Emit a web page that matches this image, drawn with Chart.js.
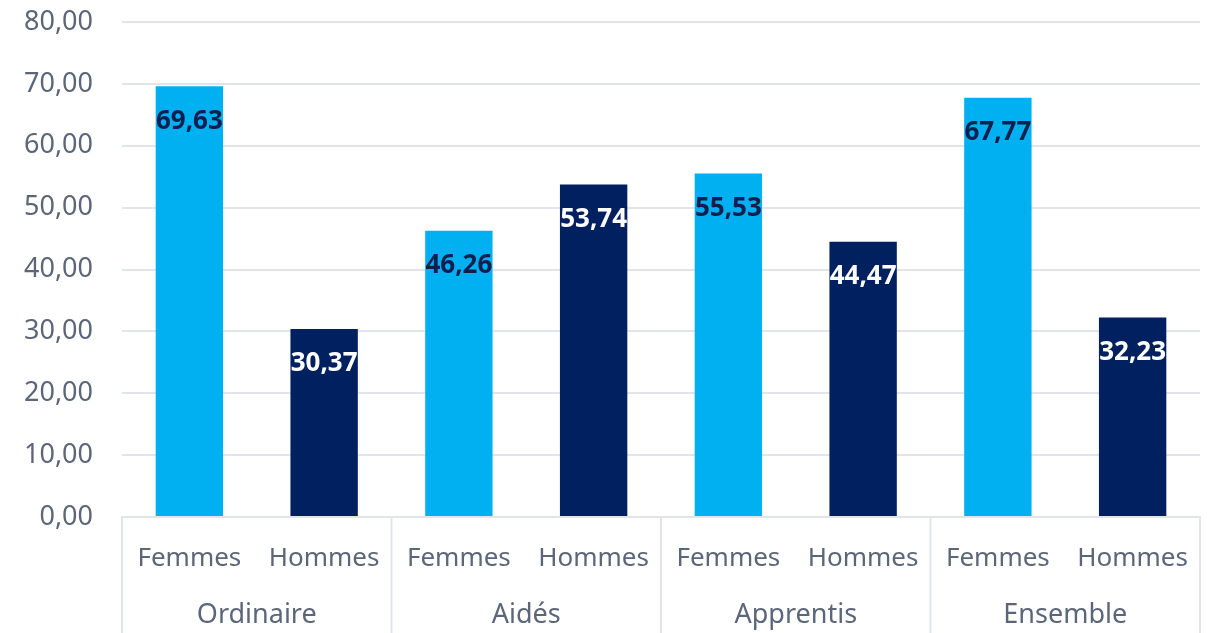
<!DOCTYPE html>
<html>
<head>
<meta charset="utf-8">
<script src="https://cdn.jsdelivr.net/npm/chart.js@4"></script>
<style>
  html, body { margin: 0; padding: 0; background: #fff; }
  #wrap { width: 1209px; height: 633px; }
</style>
</head>
<body>
<div id="wrap"><canvas id="contratChart"></canvas></div>
<script>
const groups = ['Ordinaire', 'Aidés', 'Apprentis', 'Ensemble'];
const sexes = ['Femmes', 'Hommes'];
const values = [69.63, 30.37, 46.26, 53.74, 55.53, 44.47, 67.77, 32.23];
const yMin = 0, yMax = 80, yStep = 10;

const labels = [];
groups.forEach(() => sexes.forEach(s => labels.push(s)));

const fmt = v => v.toFixed(2).replace('.', ',');
const axisGrey = '#5b6778';
const gridGrey = '#e1e4ea';

// value labels inside the top of each bar + group row under the axis
const extras = {
  id: 'extras',
  afterDatasetsDraw(chart) {
    const ctx = chart.ctx;
    const meta = chart.getDatasetMeta(0);
    ctx.save();
    ctx.font = 'bold 26px "Noto Sans"';
    ctx.textAlign = 'center';
    ctx.textBaseline = 'middle';
    meta.data.forEach((bar, i) => {
      ctx.fillStyle = i % 2 === 0 ? '#0c1f4f' : '#ffffff';
      ctx.fillText(fmt(values[i]), bar.x, bar.y + 35);
    });
    ctx.restore();
  },
  afterDraw(chart) {
    const ctx = chart.ctx;
    const x = chart.scales.x;
    const area = chart.chartArea;
    const step = x.getPixelForValue(1) - x.getPixelForValue(0);
    ctx.save();
    ctx.strokeStyle = gridGrey;
    ctx.lineWidth = 2;
    for (let g = 0; g <= groups.length; g++) {
      const px = x.getPixelForValue(g * sexes.length) - step / 2;
      ctx.beginPath();
      ctx.moveTo(px, area.bottom);
      ctx.lineTo(px, chart.height);
      ctx.stroke();
    }
    ctx.font = '27px "Noto Sans"';
    ctx.fillStyle = axisGrey;
    ctx.textAlign = 'center';
    ctx.textBaseline = 'middle';
    groups.forEach((g, k) => {
      const a = x.getPixelForValue(k * sexes.length);
      const b = x.getPixelForValue(k * sexes.length + sexes.length - 1);
      ctx.fillText(g, (a + b) / 2, 615);
    });
    ctx.restore();
  }
};

new Chart(document.getElementById('contratChart'), {
  type: 'bar',
  data: {
    labels: labels,
    datasets: [{
      data: values,
      backgroundColor: values.map((v, i) => i % 2 === 0 ? '#00b0f0' : '#002060'),
      categoryPercentage: 1,
      barPercentage: 0.5
    }]
  },
  options: {
    responsive: true,
    maintainAspectRatio: false,
    animation: false,
    layout: { padding: { top: 22, right: 9, left: 0, bottom: 0 } },
    plugins: {
      legend: { display: false },
      tooltip: { enabled: false }
    },
    scales: {
      x: {
        grid: { display: false },
        border: { display: true, color: gridGrey, width: 2 },
        ticks: {
          color: axisGrey,
          font: { family: 'Noto Sans', size: 26 },
          padding: 18,
          maxRotation: 0,
          autoSkip: false
        },
        afterFit(scale) {
          scale.height = 116;
          scale.paddingRight = 0;
          scale.paddingLeft = 0;
        }
      },
      y: {
        min: yMin,
        max: yMax,
        ticks: {
          stepSize: yStep,
          color: axisGrey,
          font: { family: 'Noto Sans', size: 27 },
          padding: 29,
          callback: v => fmt(v)
        },
        grid: { color: gridGrey, lineWidth: 2, drawTicks: false },
        border: { display: false },
        afterFit(scale) {
          scale.width = 122;
          scale.paddingTop = 0;
          scale.paddingBottom = 0;
        }
      }
    }
  },
  plugins: [extras]
});
</script>
</body>
</html>
